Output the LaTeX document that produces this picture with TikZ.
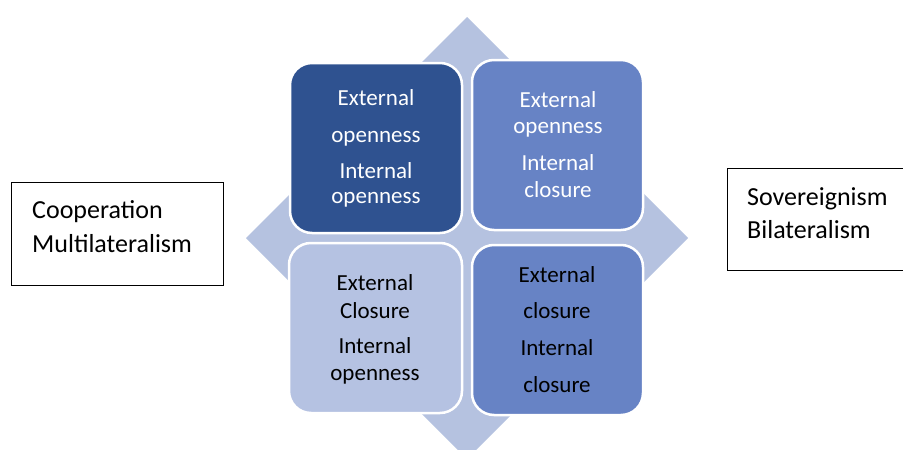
\documentclass[tikz,border=0pt]{standalone}
\usepackage{fontspec}
\setmainfont{Carlito}
\definecolor{cdark}{HTML}{2F5290}
\definecolor{cmid}{HTML}{6783C5}
\definecolor{clight}{HTML}{B5C2E2}
\definecolor{cdia}{HTML}{B5C2E0}
\tikzset{
  quad/.style={draw=white, line width=2.5pt, rounded corners=22pt},
  boxt/.style={anchor=base, inner sep=0pt, font=\fontsize{23}{27}\selectfont},
  sidebox/.style={draw=black, line width=0.8pt},
  sidet/.style={anchor=base west, inner sep=0pt, font=\fontsize{26}{30}\selectfont}
}
\begin{document}
\begin{tikzpicture}[x=1pt,y=-1pt]
\useasboundingbox (0,0) rectangle (903,450);
\clip (0,0) rectangle (903,450);
\fill[white] (0,0) rectangle (903,450);
% diamond
\fill[cdia] (467,17) coordinate (dt) -- (688,238) coordinate (dr) -- (467,459) coordinate (db) -- (246,238) coordinate (dl) -- cycle;
% quadrants
\draw[quad, fill=cdark]  (290,63)  rectangle (462,233);
\draw[quad, fill=cmid]   (472,60)  rectangle (643,230);
\draw[quad, fill=clight] (289,243) rectangle (462,413);
\draw[quad, fill=cmid]   (472,245) rectangle (643,415);
% TL text
\node[boxt, text=white] (tl1) at (376,105) {External};
\node[boxt, text=white] (tl2) at (376,142) {openness};
\node[boxt, text=white] (tl3) at (376,178) {Internal};
\node[boxt, text=white] (tl4) at (376,203) {openness};
% TR text
\node[boxt, text=white] (tr1) at (558,107) {External};
\node[boxt, text=white] (tr2) at (558,133) {openness};
\node[boxt, text=white] (tr3) at (558,170) {Internal};
\node[boxt, text=white] (tr4) at (558,197) {closure};
% BL text
\node[boxt, text=black] (bl1) at (375,290) {External};
\node[boxt, text=black] (bl2) at (375,318) {Closure};
\node[boxt, text=black] (bl3) at (375,353) {Internal};
\node[boxt, text=black] (bl4) at (375,380) {openness};
% BR text
\node[boxt, text=black] (br1) at (557,282) {External};
\node[boxt, text=black] (br2) at (557,318) {closure};
\node[boxt, text=black] (br3) at (557,355) {Internal};
\node[boxt, text=black] (br4) at (557,392) {closure};
% side boxes
\draw[sidebox] (11,182) rectangle (223,285);
\node[sidet] (l1) at (32,218) {Cooperation};
\node[sidet] (l2) at (32,252) {Multilateralism};
\draw[sidebox] (727,168) rectangle (910,270);
\node[sidet] (r1) at (747,205) {Sovereignism};
\node[sidet] (r2) at (747,238) {Bilateralism};
\end{tikzpicture}
\end{document}
